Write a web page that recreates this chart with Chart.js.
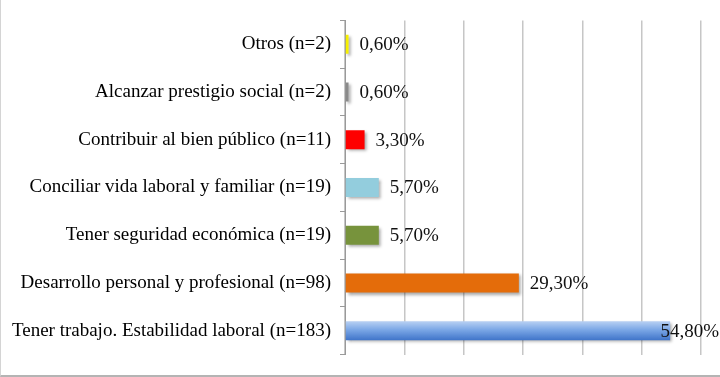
<!DOCTYPE html>
<html>
<head>
<meta charset="utf-8">
<script src="https://cdn.jsdelivr.net/npm/chart.js@4.4.0/dist/chart.umd.min.js"></script>
<style>
  html, body { margin: 0; padding: 0; background: #fff; }
  #wrap { width: 719px; height: 375px; border-left: 1px solid #d4d4d4; border-bottom: 2px solid #b4b4b4; }
</style>
</head>
<body>
<div id="wrap"><canvas id="c" width="719" height="375"></canvas></div>
<script>
  var categories = [
    'Otros (n=2)',
    'Alcanzar prestigio social (n=2)',
    'Contribuir al bien público (n=11)',
    'Conciliar vida laboral y familiar (n=19)',
    'Tener seguridad económica (n=19)',
    'Desarrollo personal y profesional (n=98)',
    'Tener trabajo. Estabilidad laboral (n=183)'
  ];
  var percents = [0.6, 0.6, 3.3, 5.7, 5.7, 29.3, 54.8];
  var valueLabels = ['0,60%', '0,60%', '3,30%', '5,70%', '5,70%', '29,30%', '54,80%'];
  var barColors = ['#f7f000', '#8a8a8a', '#fe0000', '#93cddd', '#77933c', '#e46c0a', 'gradient'];

  var serif = '"Liberation Serif", "DejaVu Serif", serif';
  var barPct = 0.4;

  function barFill(ctx) {
    var c = barColors[ctx.dataIndex];
    if (c !== 'gradient') return c;
    var chart = ctx.chart, area = chart.chartArea, y = chart.scales.y;
    if (!area || !y) return '#558ed5';
    var mid = y.getPixelForValue(ctx.dataIndex);
    var half = (area.bottom - area.top) / categories.length * barPct / 2;
    var g = chart.ctx.createLinearGradient(0, mid - half, 0, mid + half);
    g.addColorStop(0, '#b9d1f3');
    g.addColorStop(0.45, '#7ba7e6');
    g.addColorStop(1, '#3f74c9');
    return g;
  }

  // bar shadow like the office chart
  var shadowPlugin = {
    id: 'shadow',
    beforeDatasetDraw: function(chart) {
      var ctx = chart.ctx;
      ctx.save();
      ctx.shadowColor = 'rgba(0,0,0,0.35)';
      ctx.shadowBlur = 3;
      ctx.shadowOffsetX = 2;
      ctx.shadowOffsetY = 2;
    },
    afterDatasetDraw: function(chart) {
      chart.ctx.restore();
    }
  };

  // value labels at the end of each bar, kept inside the canvas
  var labelPlugin = {
    id: 'valueLabels',
    afterDatasetsDraw: function(chart) {
      var ctx = chart.ctx;
      var meta = chart.getDatasetMeta(0);
      ctx.save();
      ctx.font = '19px ' + serif;
      ctx.fillStyle = '#111';
      ctx.textBaseline = 'middle';
      meta.data.forEach(function(bar, i) {
        var txt = valueLabels[i];
        var w = ctx.measureText(txt).width;
        var x = Math.min(bar.x + 11, chart.width - w - 1);
        ctx.fillText(txt, x, bar.y + 1);
      });
      ctx.restore();
    }
  };

  new Chart(document.getElementById('c'), {
    type: 'bar',
    data: {
      labels: categories,
      datasets: [{
        data: percents,
        backgroundColor: barFill,
        borderWidth: 0,
        barPercentage: barPct,
        categoryPercentage: 1
      }]
    },
    options: {
      indexAxis: 'y',
      responsive: false,
      animation: false,
      layout: { padding: { top: 15, bottom: 20, right: 19, left: 0 } },
      plugins: { legend: { display: false }, tooltip: { enabled: false } },
      scales: {
        x: {
          min: 0, max: 60,
          ticks: { display: false, stepSize: 10 },
          grid: { color: '#c6c6c6', lineWidth: 1.5, drawTicks: false },
          border: { display: false }
        },
        y: {
          afterFit: function(scale) { scale.width = 344; },
          ticks: { color: '#000', font: { family: serif, size: 19 }, padding: 9 },
          grid: { offset: true, drawOnChartArea: false, tickLength: 5, color: '#9a9a9a' },
          border: { color: '#9a9a9a', width: 1 }
        }
      }
    },
    plugins: [shadowPlugin, labelPlugin]
  });
</script>
</body>
</html>
